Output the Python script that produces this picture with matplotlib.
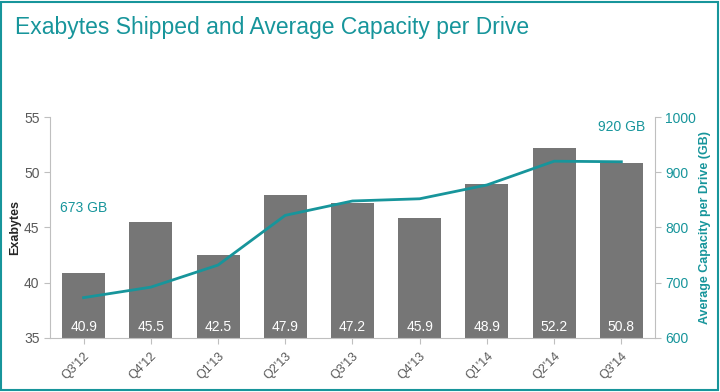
import matplotlib
matplotlib.use("Agg")
import matplotlib.pyplot as plt
from matplotlib.patches import Rectangle

plt.rcParams['font.family'] = ['Liberation Sans', 'DejaVu Sans']

quarters = ["Q3'12", "Q4'12", "Q1'13", "Q2'13", "Q3'13", "Q4'13", "Q1'14", "Q2'14", "Q3'14"]
exabytes = [40.9, 45.5, 42.5, 47.9, 47.2, 45.9, 48.9, 52.2, 50.8]
capacity_gb = [673, 692, 732, 822, 848, 852, 877, 920, 919]

teal = '#17959b'
bar_gray = '#767676'
axis_gray = '#bfbfbf'
text_gray = '#595959'

fig = plt.figure(figsize=(7.2, 3.92), dpi=100)
fig.patches.append(Rectangle((0.002, 0.006), 0.995, 0.99, transform=fig.transFigure,
                             fill=False, edgecolor=teal, linewidth=1.5))
fig.text(0.021, 0.913, "Exabytes Shipped and Average Capacity per Drive",
         color=teal, fontsize=16.5, ha='left', va='baseline')

ax = fig.add_axes([0.0694, 0.1378, 0.8403, 0.5637])
x = list(range(len(quarters)))
ax.bar(x, exabytes, width=0.64, color=bar_gray, zorder=2)
ax.set_ylim(35, 55)
ax.set_xlim(-0.5, len(quarters) - 0.5)
ax.set_yticks([35, 40, 45, 50, 55])
ax.set_xticks(x)
ax.set_xticklabels(quarters, rotation=45, ha='right', rotation_mode='anchor',
                   fontsize=9, color=text_gray)
ax.tick_params(axis='y', labelsize=10, colors=text_gray, length=4, color=axis_gray)
ax.tick_params(axis='x', length=4, color=axis_gray, pad=5)
ax.set_ylabel("Exabytes", fontsize=9, fontweight='bold', color='#262626')
ax.yaxis.set_label_coords(-0.047, 0.5)
for s in ['top', 'right']:
    ax.spines[s].set_visible(False)
for s in ['left', 'bottom']:
    ax.spines[s].set_color(axis_gray)
for xi, v in zip(x, exabytes):
    ax.text(xi, 35.95, f"{v:.1f}", color='white', fontsize=10, ha='center', va='center', zorder=3)

ax2 = ax.twinx()
ax2.plot(x, capacity_gb, color=teal, linewidth=2, zorder=4)
ax2.set_ylim(600, 1000)
ax2.set_yticks([600, 700, 800, 900, 1000])
ax2.tick_params(axis='y', labelsize=10, colors=teal, length=4)
ax2.tick_params(axis='y', color=axis_gray)
ax2.set_ylabel("Average Capacity per Drive (GB)", fontsize=9, fontweight='bold', color=teal,
               labelpad=2)
for s in ['top', 'left', 'bottom']:
    ax2.spines[s].set_visible(False)
ax2.spines['right'].set_color(axis_gray)
ax2.text(0, 836, f"{capacity_gb[0]} GB", color=teal, fontsize=10, ha='center', va='center')
ax2.text(8, 982, f"{capacity_gb[7]} GB", color=teal, fontsize=10, ha='center', va='center')

fig.savefig("out.png", dpi=100)
